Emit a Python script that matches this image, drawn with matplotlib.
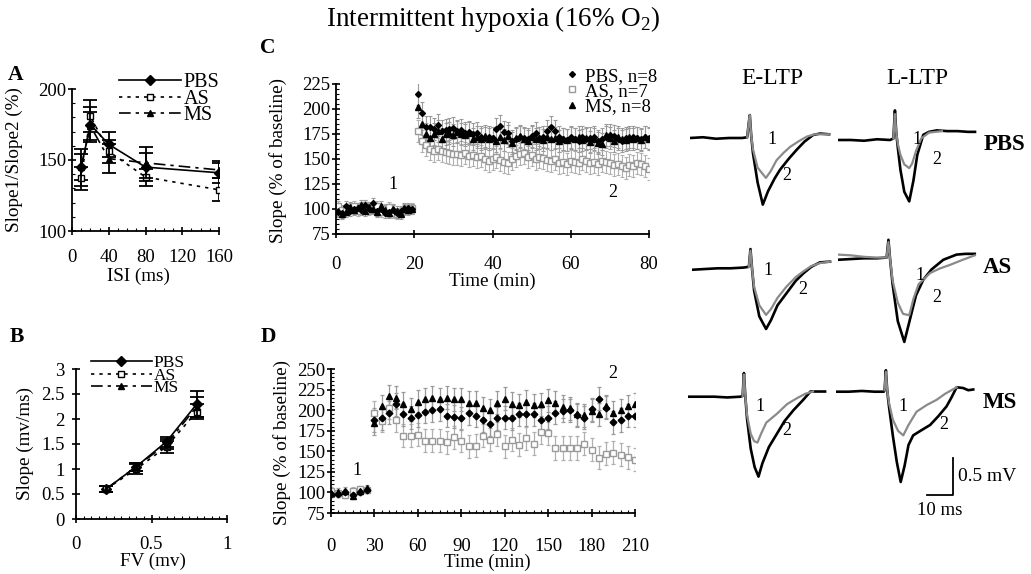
#%% imports

import numpy as np
import matplotlib
matplotlib.use('Agg')
import matplotlib.pyplot as plt
from matplotlib.ticker import MultipleLocator

plt.rcParams['font.family'] = 'serif'
plt.rcParams['font.serif'] = ['Liberation Serif', 'DejaVu Serif']
plt.rcParams['mathtext.fontset'] = 'custom'
plt.rcParams['mathtext.rm'] = 'Liberation Serif'

#%% data

# A: paired pulse ratio
a_isi = [10, 20, 40, 80, 160]
a_pbs = [145, 175, 161, 145, 141]
a_as = [137, 181, 156, 138, 129]
a_ms = [145, 174, 151, 148, 143]
a_pbs_err = [9, 12, 9, 10, 7]
a_as_err = [8, 11, 8, 6, 8]
a_ms_err = [13, 10, 10, 11, 6]

# B: input-output
b_fv = [0.2, 0.4, 0.6, 0.8]
b_pbs = [0.6, 1.05, 1.55, 2.3]
b_as = [0.6, 1.0, 1.45, 2.15]
b_ms = [0.6, 1.05, 1.5, 2.25]
b_pbs_err = [0.06, 0.08, 0.1, 0.26]
b_as_err = [0.06, 0.1, 0.12, 0.15]
b_ms_err = [0.06, 0.08, 0.1, 0.2]

# C: E-LTP time course (one point per minute)
c_time = np.concatenate([np.arange(0.5, 20, 1.0), np.arange(21, 81, 1.0)])
c_pbs = [97, 96, 103, 98, 100, 101, 99, 104, 100, 106, 98, 100, 96, 97, 99, 96, 98, 100, 101, 100,
         215, 196, 182, 182, 180, 184, 178, 179, 180, 181, 178, 179, 176, 177, 175, 176, 172, 171, 172, 171,
         180, 183, 177, 176, 168, 170, 172, 171, 170, 173, 176, 171, 172, 178, 182, 178, 172, 170, 169, 172,
         170, 168, 172, 170, 171, 172, 168, 170, 172, 174, 173, 170, 168, 171, 170, 172, 171, 170, 172, 171]
c_as = [103, 99, 100, 101, 103, 98, 102, 104, 99, 101, 103, 97, 100, 102, 96, 95, 97, 99, 100, 101,
        178, 168, 164, 160, 158, 160, 158, 157, 156, 155, 155, 154, 156, 153, 154, 152, 153, 150, 148, 150,
        152, 149, 147, 146, 150, 153, 155, 156, 152, 154, 150, 152, 151, 149, 148, 150, 146, 147, 145, 148,
        147, 146, 150, 148, 146, 147, 145, 148, 147, 146, 144, 145, 143, 141, 144, 143, 146, 145, 143, 140]
c_ms = [98, 95, 97, 102, 99, 101, 104, 98, 102, 100, 97, 103, 99, 96, 100, 98, 95, 101, 99, 100,
        202, 185, 175, 171, 175, 178, 170, 175, 176, 174, 177, 175, 174, 176, 170, 172, 170, 173, 170, 171,
        168, 172, 169, 173, 166, 171, 173, 170, 168, 172, 170, 171, 169, 172, 170, 171, 168, 170, 169, 171,
        170, 172, 169, 171, 167, 170, 166, 165, 174, 171, 168, 172, 170, 169, 172, 170, 171, 169, 172, 170]
c_err = np.where(c_time < 20, 5, 11)

# D: L-LTP time course (every 5 min)
d_time = np.arange(0, 211, 5)
d_pbs = [98, 98, 100, 97, 101, 103,
         188, 190, 197, 207, 195, 191, 194, 198, 200, 201, 193, 192, 190, 196, 193, 188, 183, 190, 191,
         190, 195, 195, 195, 188, 191, 197, 199, 200, 194, 191, 201, 214, 203, 185, 188, 193, 193]
d_as = [102, 99, 97, 102, 104, 103,
        197, 187, 203, 188, 169, 169, 170, 163, 163, 163, 161, 167, 163, 156, 157, 169, 164, 171, 156,
        164, 158, 166, 159, 173, 172, 154, 154, 154, 154, 159, 152, 142, 147, 148, 146, 143, 140]
d_ms = [99, 101, 102, 96, 102, 105,
        184, 205, 217, 215, 208, 201, 210, 213, 215, 213, 215, 213, 213, 209, 209, 202, 200, 209, 214,
        208, 206, 210, 206, 207, 212, 209, 204, 202, 195, 194, 199, 195, 205, 197, 200, 205, 207]
d_err = np.where(d_time < 30, 4, 14)

# field potential traces: [time (ms)], [mV]; 1 = baseline (grey), 2 = after HFS (black)
pbs_e2 = [[0, 5, 10, 15, 20, 22, 22.6, 23.0, 23.5, 24.2, 26, 28, 30, 32.5, 34.6, 38, 41, 44, 47.3, 50, 53.5],
          [0, 0.01, -0.01, 0.0, 0.0, 0.01, 0.2, 0.31, 0.05, -0.2, -0.6, -0.9, -0.72, -0.55, -0.43, -0.28, -0.16, -0.05, 0.04, 0.06, 0.05]]
pbs_e1 = [[22, 22.6, 23.0, 23.5, 24.2, 26, 29.2, 31, 33.3, 36, 38.5, 42, 45, 48, 53.5],
          [0.01, 0.2, 0.31, 0.05, -0.15, -0.4, -0.54, -0.45, -0.3, -0.2, -0.12, -0.04, 0.02, 0.05, 0.05]]
pbs_l2 = [[0, 5, 10, 15, 20, 21.3, 21.9, 22.4, 23, 24, 25.5, 27.4, 29, 30.5, 32.8, 35, 38, 42, 46, 50, 52.7],
          [0, 0.0, -0.01, 0.01, 0.0, 0.02, 0.4, 0.1, -0.1, -0.4, -0.7, -0.83, -0.55, -0.2, 0.07, 0.11, 0.13, 0.12, 0.12, 0.11, 0.11]]
pbs_l1 = [[21.3, 21.9, 22.4, 23, 24, 25.5, 27.4, 28.5, 30, 32, 35, 40],
          [0.02, 0.35, 0.1, -0.05, -0.2, -0.33, -0.38, -0.32, -0.15, 0.02, 0.1, 0.12]]
as_e2 = [[0, 5, 10, 15, 20, 22, 22.6, 23.2, 24, 26, 28.6, 30.5, 33, 36.4, 40, 42.9, 46, 49.3, 53.2],
         [-0.02, -0.01, 0.0, 0.0, 0.01, 0.02, 0.26, 0.0, -0.3, -0.65, -0.82, -0.7, -0.5, -0.34, -0.17, -0.07, 0.02, 0.08, 0.09]]
as_e1 = [[22, 22.6, 23.2, 24, 26, 28.6, 30.5, 33, 36.4, 40, 43, 46, 49.3, 53.2],
         [0.02, 0.24, 0.0, -0.25, -0.5, -0.63, -0.55, -0.4, -0.25, -0.12, -0.04, 0.03, 0.07, 0.09]]
as_l2 = [[0, 5, 10, 15, 18.7, 19.4, 20.0, 21, 23, 25.5, 27.5, 30, 32.8, 36, 40.5, 45.6, 49, 52.6],
         [-0.02, -0.01, 0.0, 0.0, 0.01, 0.25, 0.0, -0.35, -0.85, -1.13, -0.85, -0.5, -0.29, -0.15, -0.02, 0.05, 0.06, 0.06]]
as_l1 = [[0, 5, 10, 15, 18.7, 19.4, 20.0, 21, 23, 25, 27.4, 29, 31, 35.4, 39, 43, 48, 52.6],
         [0.05, 0.04, 0.02, 0.01, 0.01, 0.22, 0.0, -0.3, -0.6, -0.75, -0.77, -0.55, -0.35, -0.2, -0.14, -0.09, -0.02, 0.04]]
ms_e2 = [[0, 5, 10, 15, 20, 20.9, 21.4, 21.9, 22.6, 24, 25.5, 27, 28.5, 31, 34.1, 37, 40.5, 44, 47, 50, 52.6],
         [0, 0.0, 0.0, -0.01, 0.0, 0.01, 0.32, 0.02, -0.3, -0.7, -0.95, -1.08, -0.9, -0.68, -0.5, -0.33, -0.18, -0.05, 0.07, 0.07, 0.07]]
ms_e1 = [[20.9, 21.4, 21.9, 22.6, 24, 25.3, 26.6, 28, 30, 34.1, 38, 41.8, 45, 48],
         [0.01, 0.3, 0.02, -0.25, -0.5, -0.6, -0.62, -0.5, -0.35, -0.23, -0.1, -0.02, 0.04, 0.07]]
ms_l2 = [[0, 5, 10, 15, 18.5, 18.8, 19.3, 19.8, 20.5, 22, 23.5, 25, 26.5, 28, 29.8, 33, 36.3, 39.5, 42.6, 44.5, 46.5, 49, 51, 52.9],
         [0, 0.0, 0.01, 0.0, 0.0, 0.02, 0.29, 0.02, -0.2, -0.6, -0.95, -1.22, -1.0, -0.72, -0.59, -0.52, -0.45, -0.33, -0.2, -0.08, 0.06, 0.05, 0.02, 0.03]]
ms_l1 = [[18.8, 19.3, 19.8, 20.5, 22, 24, 26, 28, 31.1, 35, 38.8, 42, 46.5],
         [0.02, 0.27, 0.02, -0.15, -0.38, -0.53, -0.59, -0.45, -0.27, -0.18, -0.11, -0.03, 0.06]]

#%% figure helpers

W, H = 1031, 574
fig = plt.figure(figsize=(W / 100, H / 100), dpi=100)

TICK_FS = 13.5
LABEL_FS = 13.8


def box(l, t, r, b):
    return [l / W, 1 - b / H, (r - l) / W, (b - t) / H]


def fpos(x, y):
    return x / W, 1 - y / H


def style(ax, xpad, ypad):
    for s in ['top', 'right']:
        ax.spines[s].set_visible(False)
    for s in ['left', 'bottom']:
        ax.spines[s].set_linewidth(1.3)
    ax.tick_params(direction='inout', length=6, width=1.2, labelsize=TICK_FS)
    ax.tick_params(which='minor', direction='in', length=2.5, width=0.8)
    ax.tick_params(axis='x', pad=xpad)
    ax.tick_params(axis='y', pad=ypad)


black_kw = dict(color='black', mfc='black', mec='black', lw=1.2)
as_kw = dict(color='black', mfc='white', mec='black', lw=1.2)

#%% A

axA = fig.add_axes(box(72, 89, 219, 231))
for y, e, mk, ls, kw, lab in [(a_pbs, a_pbs_err, 'D', '-', black_kw, 'PBS'),
                              (a_as, a_as_err, 's', (0, (2, 3)), as_kw, 'AS'),
                              (a_ms, a_ms_err, '^', (0, (7, 3, 2, 3)), black_kw, 'MS')]:
    axA.errorbar(a_isi, y, yerr=e, fmt='none', ecolor='black', elinewidth=1.3, capsize=5, capthick=1.3)
    axA.plot(a_isi, y, marker=mk, ls=ls, ms=5, label=lab, **kw)
axA.set_xlim(0, 160)
axA.set_ylim(100, 200)
axA.set_xticks([0, 40, 80, 120, 160])
axA.set_yticks([100, 150, 200])
axA.xaxis.set_minor_locator(MultipleLocator(10))
axA.yaxis.set_minor_locator(MultipleLocator(10))
style(axA, 10, 1)
axA.set_ylabel('Slope1/Slope2 (%)', fontsize=LABEL_FS)
axA.yaxis.set_label_coords(-0.33, 0.5)
axA.set_xlabel('ISI (ms)', fontsize=LABEL_FS)
axA.xaxis.set_label_coords(0.45, -0.255)
axA.legend(loc='upper left', bbox_to_anchor=(0.32, 1.11), frameon=False, fontsize=14.5,
           handlelength=3.1, handletextpad=0.1, labelspacing=-0.15, borderpad=0, borderaxespad=0)

#%% B

axB = fig.add_axes(box(76, 369, 227, 519))
for y, e, mk, ls, kw, lab in [(b_pbs, b_pbs_err, 'D', '-', black_kw, 'PBS'),
                              (b_as, b_as_err, 's', (0, (2, 3)), as_kw, 'AS'),
                              (b_ms, b_ms_err, '^', (0, (7, 3, 2, 3)), black_kw, 'MS')]:
    axB.errorbar(b_fv, y, yerr=e, fmt='none', ecolor='black', elinewidth=1.3, capsize=5, capthick=1.3)
    axB.plot(b_fv, y, marker=mk, ls=ls, ms=5, label=lab, **kw)
axB.set_xlim(0, 1)
axB.set_ylim(0, 3)
axB.set_xticks([0, 0.5, 1])
axB.set_xticklabels(['0', '0.5', '1'])
axB.set_yticks([0, 0.5, 1, 1.5, 2, 2.5, 3])
axB.set_yticklabels(['0', '0.5', '1', '1.5', '2', '2.5', '3'])
axB.xaxis.set_minor_locator(MultipleLocator(0.05))
style(axB, 9, 5)
axB.set_ylabel('Slope (mv/ms)', fontsize=LABEL_FS)
axB.yaxis.set_label_coords(-0.275, 0.5)
axB.set_xlabel('FV (mv)', fontsize=LABEL_FS)
axB.xaxis.set_label_coords(0.51, -0.225)
axB.legend(loc='upper left', bbox_to_anchor=(0.1, 1.095), frameon=False, fontsize=12.5,
           handlelength=3.5, handletextpad=0.1, labelspacing=-0.2, borderpad=0, borderaxespad=0)

#%% C

axC = fig.add_axes(box(336, 84, 649, 234))
axC.errorbar(c_time, c_as, yerr=c_err, fmt='none', ecolor='#b0b0b0', elinewidth=0.8, capsize=1.2, capthick=0.8)
axC.errorbar(c_time, c_ms, yerr=c_err, fmt='none', ecolor='#9a9a9a', elinewidth=0.8, capsize=1.2, capthick=0.8)
axC.errorbar(c_time, c_pbs, yerr=c_err, fmt='none', ecolor='#9a9a9a', elinewidth=0.8, capsize=1.2, capthick=0.8)
axC.plot(c_time, c_as, 's', ms=4.0, mfc='white', mec='#9a9a9a', mew=1.0, ls='none', label='AS, n=7')
axC.plot(c_time, c_ms, '^', ms=3.7, color='black', ls='none', label='MS, n=8')
axC.plot(c_time, c_pbs, 'D', ms=3.0, color='black', ls='none', label='PBS, n=8')
axC.set_xlim(0, 80)
axC.set_ylim(75, 225)
axC.set_xticks([0, 20, 40, 60, 80])
axC.set_yticks(np.arange(75, 226, 25))
axC.yaxis.set_minor_locator(MultipleLocator(5))
style(axC, 13, 1)
axC.set_ylabel('Slope (% of baseline)', fontsize=LABEL_FS)
axC.yaxis.set_label_coords(-0.155, 0.49)
axC.set_xlabel('Time (min)', fontsize=LABEL_FS)
axC.xaxis.set_label_coords(0.5, -0.255)
h, l = axC.get_legend_handles_labels()
axC.legend([h[2], h[0], h[1]], [l[2], l[0], l[1]], loc='upper left', bbox_to_anchor=(0.735, 1.11),
           frameon=False, fontsize=13.5, handlelength=0.6, handletextpad=0.4, labelspacing=-0.1,
           borderpad=0, borderaxespad=0)
axC.text(14.5, 124, '1', fontsize=13, ha='center', va='center')
axC.text(70.8, 116, '2', fontsize=13, ha='center', va='center')

#%% D

axD = fig.add_axes(box(331, 369, 635, 513))
axD.errorbar(d_time, d_as, yerr=d_err, fmt='none', ecolor='#b0b0b0', elinewidth=0.9, capsize=1.5, capthick=0.9)
axD.errorbar(d_time, d_ms, yerr=d_err, fmt='none', ecolor='#9a9a9a', elinewidth=0.9, capsize=1.5, capthick=0.9)
axD.errorbar(d_time, d_pbs, yerr=d_err, fmt='none', ecolor='#9a9a9a', elinewidth=0.9, capsize=1.5, capthick=0.9)
axD.plot(d_time, d_as, 's', ms=4.6, mfc='white', mec='#9a9a9a', mew=1.0, ls='none')
axD.plot(d_time, d_ms, '^', ms=4.4, color='black', ls='none')
axD.plot(d_time, d_pbs, 'D', ms=3.4, color='black', ls='none')
axD.set_xlim(0, 210)
axD.set_ylim(75, 250)
axD.set_xticks(np.arange(0, 211, 30))
axD.set_yticks(np.arange(75, 251, 25))
axD.xaxis.set_minor_locator(MultipleLocator(5))
axD.yaxis.set_minor_locator(MultipleLocator(5))
style(axD, 15, 1)
axD.set_ylabel('Slope (% of baseline)', fontsize=LABEL_FS)
axD.yaxis.set_label_coords(-0.13, 0.49)
axD.set_xlabel('Time (min)', fontsize=LABEL_FS)
axD.xaxis.set_label_coords(0.515, -0.285)
axD.text(18, 127, '1', fontsize=13, ha='center', va='center')
axD.text(194.6, 245, '2', fontsize=13, ha='center', va='center')

#%% traces

px_ms, px_mv = 2.6, 74.0
t_lim, v_lim = (0, 55), (-1.45, 0.45)
panels = [(pbs_e1, pbs_e2, 690, 138, (31.4, -0.02), (37.2, -0.5)),
          (pbs_l1, pbs_l2, 838, 140, (30.3, 0.0), (38, -0.26)),
          (as_e1, as_e2, 691.7, 268.3, (29.4, -0.03), (42.9, -0.28)),
          (as_l1, as_l2, 838, 258.3, (31.5, -0.23), (37.9, -0.53)),
          (ms_e1, ms_e2, 688.3, 396.7, (27.6, -0.13), (37.8, -0.46)),
          (ms_l1, ms_l2, 835.7, 391.7, (26.0, -0.2), (41.4, -0.44))]
for tr1, tr2, x0, y0, p1, p2 in panels:
    ax = fig.add_axes(box(x0, y0 - v_lim[1] * px_mv, x0 + t_lim[1] * px_ms, y0 - v_lim[0] * px_mv))
    ax.plot(tr2[0], tr2[1], color='black', lw=1.9, solid_joinstyle='round')
    ax.plot(tr1[0], tr1[1], color='#8a8a8a', lw=1.6, solid_joinstyle='round')
    ax.text(p1[0], p1[1], '1', fontsize=13, ha='center', va='center')
    ax.text(p2[0], p2[1], '2', fontsize=13, ha='center', va='center')
    ax.set_xlim(*t_lim)
    ax.set_ylim(*v_lim)
    ax.axis('off')

# scale bar on last trace panel
ax.plot([35, 45, 45], [-1.4, -1.4, -0.9], color='black', lw=1.3, clip_on=False)
ax.text(47, -1.15, '0.5 mV', fontsize=14, ha='left', va='center', clip_on=False)
ax.text(40, -1.6, '10 ms', fontsize=13.5, ha='center', va='center', clip_on=False)

#%% labels

fig.text(*fpos(493, 19), r'Intermittent hypoxia (16% O$_2$)', fontsize=19.5, ha='center', va='center')
for s, x, y in [('A', 16, 75), ('B', 17, 337), ('C', 268, 48), ('D', 268, 337)]:
    fig.text(*fpos(x, y), s, fontsize=15.5, fontweight='bold', ha='center', va='center')
fig.text(*fpos(772, 78), 'E-LTP', fontsize=17, ha='center', va='center')
fig.text(*fpos(917, 78), 'L-LTP', fontsize=17, ha='center', va='center')
for s, x, y in [('PBS', 1005, 145), ('AS', 997, 267), ('MS', 1000, 402)]:
    fig.text(*fpos(x, y), s, fontsize=16.5, fontweight='bold', ha='center', va='center')

fig.savefig('out.png', dpi=100)
